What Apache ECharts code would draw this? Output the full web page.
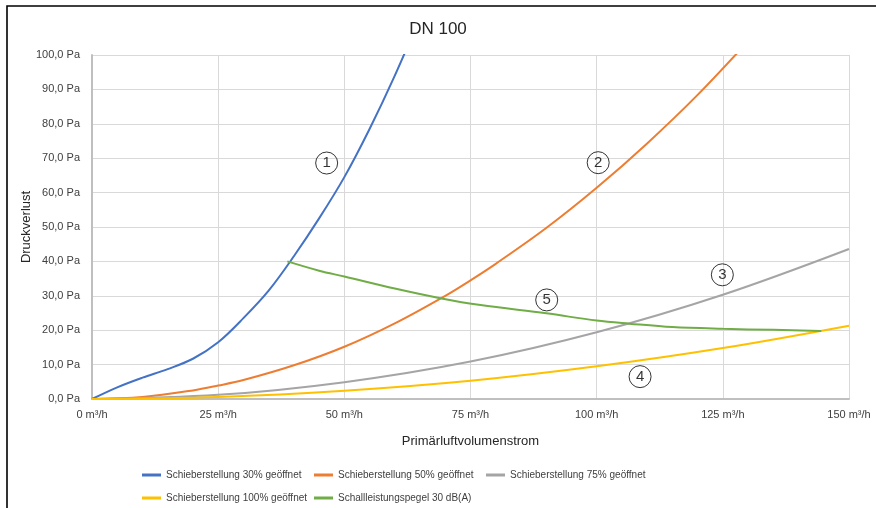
<!DOCTYPE html>
<html>
<head>
<meta charset="utf-8">
<script src="https://cdn.jsdelivr.net/npm/echarts@6/dist/echarts.min.js"></script>
<style>
html,body{margin:0;padding:0;background:#fff;}
#c{width:876px;height:508px;}
</style>
</head>
<body>
<div id="c"></div>
<script>
// ---- data ----
const title = 'DN 100';
const xName = 'Primärluftvolumenstrom';
const yName = 'Druckverlust';
const seriesNames = ['Schieberstellung 30% geöffnet','Schieberstellung 50% geöffnet','Schieberstellung 75% geöffnet','Schieberstellung 100% geöffnet','Schallleistungspegel 30 dB(A)'];

const blueX = [0,5,10,15,20,25,30,35,40,45,50,55,60,65];
const blueY = [0,3.4,6.2,8.7,11.7,16.5,23.5,31.5,41.5,52.5,64.5,78.5,94,111];

const orangeX = [0,10,20,25,30,40,50,60,70,75,80,90,100,110,120,130];
const orangeY = [0,0.6,2.5,3.9,5.5,9.8,15.2,22,30,34.5,39.3,49.7,61.4,74.3,88.4,104];

const grayX = [0,25,50,75,100,125,150];
const grayY = [0,1.2,4.9,10.9,19.4,30.3,43.6];

const yellowX = [0,25,50,75,100,125,150];
const yellowY = [0,0.6,2.4,5.3,9.5,14.8,21.3];

const greenX = [38.7,45,50,60,69,77,90,100,106.5,115,125,135,144.5];
const greenY = [40,37.3,35.6,32.1,29.3,27.3,24.9,22.8,21.9,20.9,20.4,20.1,19.8];

const labelText = ['1','2','3','4','5'];
const labelX = [46.5,100.3,124.9,108.6,90.1];
const labelY = [68.6,68.7,36.1,6.5,28.8];

const xTicks = {min:0,max:150,interval:25};
const yTicks = {min:0,max:100,interval:10};

const colors = ['#4472C4','#ED7D31','#A5A5A5','#FFC000','#70AD47'];

function pairs(xs, ys){ return xs.map((x,i)=>[x, ys[i]]); }

const FONT = 'Liberation Sans';
const LEGEND_FONT = '"Liberation Sans Narrow", "Liberation Sans"';
const LEGEND_SIZE = 10;

const lineData = [pairs(blueX,blueY),pairs(orangeX,orangeY),pairs(grayX,grayY),pairs(yellowX,yellowY),pairs(greenX,greenY)];

const series = lineData.map((d,i)=>({
  name: seriesNames[i],
  type:'line',
  data:d,
  smooth:0.35,
  symbol:'none',
  showSymbol:false,
  clip:true,
  lineStyle:{width:2,color:colors[i]},
  itemStyle:{color:colors[i]},
  z: i===4?4:3
}));

series.push({
  name:'labels',
  type:'scatter',
  data: labelX.map((x,i)=>({value:[x,labelY[i]], label:{formatter:labelText[i]}})),
  symbol:'circle',
  symbolSize:22,
  itemStyle:{color:'rgba(255,255,255,0)',borderColor:'#000',borderWidth:1},
  label:{show:true,position:'inside',fontSize:15,color:'#000',fontFamily:FONT},
  emphasis:{disabled:true},
  silent:true,
  z:5
});

// measure legend text widths to set column spacing
const cv = document.createElement('canvas').getContext('2d');
cv.font = LEGEND_SIZE + 'px ' + LEGEND_FONT;
const maxW = Math.max(...seriesNames.map(n=>cv.measureText(n).width));
const colStep = Math.max(131, Math.ceil(maxW + 22 + 8));
const legendPos = [[137,465],[137+colStep,465],[137+2*colStep,465],[137,488],[137+colStep,488]];
const legends = seriesNames.map((n,i)=>({
  data:[{name:n, icon:'rect'}],
  left:legendPos[i][0],
  top:legendPos[i][1],
  itemWidth:19,
  itemHeight:3,
  itemGap:0,
  selectedMode:false,
  textStyle:{fontSize:LEGEND_SIZE,color:'#404040',fontFamily:LEGEND_FONT}
}));

const chart = echarts.init(document.getElementById('c'));
chart.setOption({
  animation:false,
  color:colors,
  title:{text:title,left:'center',top:16,textStyle:{fontSize:17,fontWeight:'normal',color:'#262626',fontFamily:FONT}},
  legend:legends,
  grid:{left:92,right:27,top:55,bottom:109,containLabel:false},
  xAxis:{
    type:'value',min:xTicks.min,max:xTicks.max,interval:xTicks.interval,
    name:xName,nameLocation:'middle',nameGap:36,nameMoveOverlap:false,
    nameTextStyle:{fontSize:13,color:'#262626',fontFamily:FONT},
    axisLine:{show:true,lineStyle:{color:'#bfbfbf',width:2}},
    axisTick:{show:false},
    axisLabel:{fontSize:11,color:'#404040',fontFamily:FONT,margin:10,formatter:v=>v+' m³/h'},
    splitLine:{show:true,lineStyle:{color:'#d9d9d9',width:1}}
  },
  yAxis:{
    type:'value',min:yTicks.min,max:yTicks.max,interval:yTicks.interval,
    name:yName,nameLocation:'middle',nameGap:59,nameRotate:90,nameMoveOverlap:false,
    nameTextStyle:{fontSize:13,color:'#262626',fontFamily:FONT},
    axisLine:{show:true,lineStyle:{color:'#bfbfbf',width:2}},
    axisTick:{show:false},
    axisLabel:{fontSize:11,color:'#404040',fontFamily:FONT,margin:12,formatter:v=>v.toFixed(1).replace('.',',')+' Pa'},
    splitLine:{show:true,lineStyle:{color:'#d9d9d9',width:1}}
  },
  graphic:[{type:'rect',shape:{x:7,y:6,width:2000,height:2000},style:{fill:'none',stroke:'#000',lineWidth:1.6},silent:true,z:100}],
  series:series
});
</script>
</body>
</html>
